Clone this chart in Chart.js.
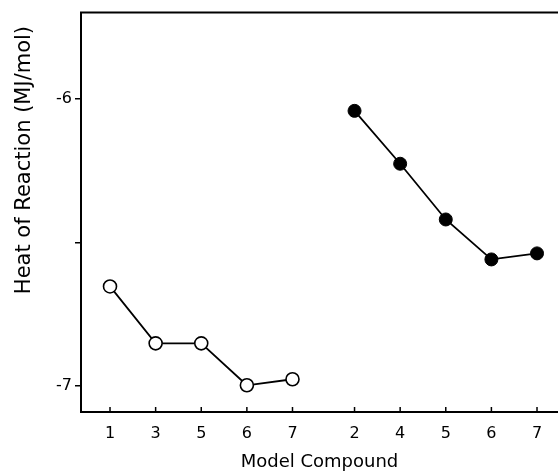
<!DOCTYPE html>
<html>
<head>
<meta charset="utf-8">
<script src="https://cdn.jsdelivr.net/npm/chart.js@4/dist/chart.umd.min.js"></script>
<style>
    html, body { margin: 0; padding: 0; background: #fff; }
    #wrap { width: 558px; height: 473px; }
</style>
</head>
<body>
<div id="wrap"><canvas id="heatChart"></canvas></div>
<script>
// model compound labels, two groups
var openLabels = ["1", "3", "5", "6", "7"];
var filledLabels = ["2", "4", "5", "6", "7"];
// heat of reaction, MJ/mol
var openValues = [-6.653, -6.851, -6.851, -6.997, -6.976];
var filledValues = [-6.042, -6.226, -6.420, -6.559, -6.538];
// y axis ticks
var yTicks = [-7, -6.5, -6];
var yLabelled = [-7, -6];

var groupGap = 0.36;

function xPos(group, i) {
    return group == 0 ? i + 1 : i + 1 + openLabels.length + groupGap;
}

var allTicks = [];
var tickText = {};
openLabels.forEach(function(l, i) { allTicks.push(xPos(0, i)); tickText[xPos(0, i)] = l; });
filledLabels.forEach(function(l, i) { allTicks.push(xPos(1, i)); tickText[xPos(1, i)] = l; });

var openData = openValues.map(function(v, i) { return { x: xPos(0, i), y: v }; });
var filledData = filledValues.map(function(v, i) { return { x: xPos(1, i), y: v }; });

var font = "'DejaVu Sans', sans-serif";

// top border line + inward x ticks
var framePlugin = {
    id: "frame",
    afterDraw: function(chart) {
        var ctx = chart.ctx, area = chart.chartArea, xs = chart.scales.x;
        ctx.save();
        ctx.strokeStyle = "#000";
        ctx.lineWidth = 2;
        ctx.beginPath();
        ctx.moveTo(area.left - 1, area.top);
        ctx.lineTo(area.right, area.top);
        ctx.stroke();
        ctx.lineWidth = 1.5;
        allTicks.forEach(function(t) {
            var px = xs.getPixelForValue(t);
            ctx.beginPath();
            ctx.moveTo(px, area.bottom);
            ctx.lineTo(px, area.bottom - 5);
            ctx.stroke();
        });
        ctx.restore();
    }
};

new Chart(document.getElementById("heatChart"), {
    type: "line",
    data: {
        datasets: [
            {
                data: openData,
                borderColor: "#000",
                borderWidth: 1.8,
                pointRadius: 6.5,
                pointBackgroundColor: "#fff",
                pointBorderColor: "#000",
                pointBorderWidth: 1.6,
                tension: 0
            },
            {
                data: filledData,
                borderColor: "#000",
                borderWidth: 1.8,
                pointRadius: 6.5,
                pointBackgroundColor: "#000",
                pointBorderColor: "#000",
                pointBorderWidth: 1,
                tension: 0
            }
        ]
    },
    options: {
        responsive: true,
        maintainAspectRatio: false,
        animation: false,
        layout: { autoPadding: false, padding: { top: 12, right: 0, left: 0, bottom: 0 } },
        plugins: {
            legend: { display: false },
            tooltip: { enabled: false }
        },
        scales: {
            x: {
                type: "linear",
                min: 0.364,
                max: 10.82,
                afterBuildTicks: function(scale) {
                    scale.ticks = allTicks.map(function(v) { return { value: v }; });
                },
                afterFit: function(scale) {
                    scale.height = 61;
                    scale.paddingLeft = 0;
                    scale.paddingRight = 0;
                },
                grid: { display: false },
                border: { display: true, color: "#000", width: 2 },
                ticks: {
                    color: "#000",
                    padding: 4,
                    maxRotation: 0,
                    autoSkip: false,
                    font: { family: font, size: 16 },
                    callback: function(v) { return tickText[v] || ""; }
                },
                title: {
                    display: true,
                    text: "Model Compound",
                    color: "#000",
                    padding: 0,
                    font: { family: font, size: 18 }
                }
            },
            y: {
                min: -7.09,
                max: -5.70,
                afterBuildTicks: function(scale) {
                    scale.ticks = yTicks.map(function(v) { return { value: v }; });
                },
                afterFit: function(scale) { scale.width = 81; },
                grid: { drawOnChartArea: false, tickLength: 6, color: "#000", lineWidth: 1.5 },
                border: { display: true, color: "#000", width: 2 },
                ticks: {
                    color: "#000",
                    padding: 3,
                    font: { family: font, size: 16 },
                    callback: function(v) { return yLabelled.indexOf(v) >= 0 ? String(v) : ""; }
                },
                title: {
                    display: true,
                    text: "Heat of Reaction (MJ/mol)  ",
                    align: "end",
                    color: "#000",
                    padding: { top: 12, bottom: 0 },
                    font: { family: font, size: 21 }
                }
            }
        }
    },
    plugins: [framePlugin]
});
</script>
</body>
</html>
